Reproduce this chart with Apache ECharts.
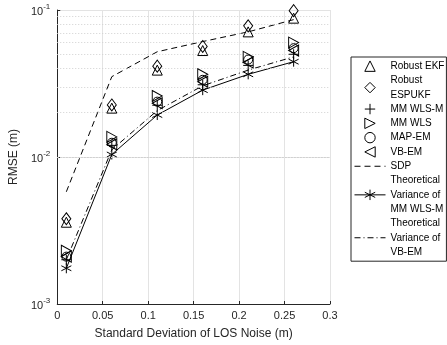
<!DOCTYPE html>
<html>
<head>
<meta charset="utf-8">
<script src="https://cdn.jsdelivr.net/npm/echarts@6/dist/echarts.min.js"></script>
<style>
html,body{margin:0;padding:0;background:#fff;}
#main{width:447px;height:345px;}
</style>
</head>
<body>
<div id="main"></div>
<script>
// ---- data ----
var xValues = [0.01, 0.06, 0.11, 0.16, 0.21, 0.26];
var robustEKF = [0.0036, 0.0215, 0.039, 0.053, 0.071, 0.088];
var robustESPUKF = [0.0038, 0.0226, 0.0415, 0.0565, 0.078, 0.099];
var mmWlsM = [0.0020, 0.0120, 0.0225, 0.031, 0.042, 0.050];
var mmWls = [0.0023, 0.0137, 0.0260, 0.0365, 0.048, 0.060];
var mapEm = [0.0021, 0.0125, 0.0238, 0.0335, 0.046, 0.055];
var vbEm = [0.0021, 0.0122, 0.0232, 0.0325, 0.044, 0.053];
var sdp = [0.0058, 0.0352, 0.052, 0.061, 0.071, 0.086];
var theoMmWlsM = [0.00175, 0.0104, 0.0193, 0.0285, 0.0365, 0.0445];
var theoVbEm = [0.0020, 0.0112, 0.0207, 0.0305, 0.039, 0.048];
var xTicks = [0, 0.05, 0.1, 0.15, 0.2, 0.25, 0.3];
var yMinorGrid = [0.002, 0.003, 0.004, 0.005, 0.006, 0.007, 0.008, 0.009,
                  0.02, 0.03, 0.04, 0.05, 0.06, 0.07, 0.08, 0.09];
var names = ['Robust EKF', 'Robust\nESPUKF', 'MM WLS-M', 'MM WLS', 'MAP-EM', 'VB-EM', 'SDP',
             'Theoretical\nVariance of\nMM WLS-M', 'Theoretical\nVariance of\nVB-EM'];

function pairs(ys) { return xValues.map(function (x, i) { return [x, ys[i]]; }); }

var AX = '#262626';
var FONT = 'Liberation Sans, Arial, sans-serif';
var CLEAR = 'rgba(255,255,255,0)';

// marker-only series (line series with invisible line)
function markers(name, data, symbol, size) {
  return {
    name: name, type: 'line', data: pairs(data), symbol: symbol, symbolSize: size,
    showSymbol: true,
    lineStyle: { color: CLEAR, width: 1, opacity: 0 },
    itemStyle: { color: CLEAR, borderColor: '#000', borderWidth: 1 },
    z: 5, silent: true
  };
}
function line(name, data, type, symbol, size) {
  return {
    name: name, type: 'line', data: pairs(data), symbol: symbol || 'circle', symbolSize: size || 1,
    showSymbol: !!symbol,
    lineStyle: { color: '#000', width: 1, type: type },
    itemStyle: { color: CLEAR, borderColor: '#000', borderWidth: 1 },
    z: 4, silent: true
  };
}

var hiddenIcon = { itemStyle: { color: CLEAR, borderColor: CLEAR, opacity: 0 } };
var legendData = names.map(function (n, i) {
  if (i === 6 || i === 8) return Object.assign({ name: n }, hiddenIcon);
  return { name: n };
});

var chart = echarts.init(document.getElementById('main'), null, { renderer: 'canvas' });
chart.setOption({
  animation: false,
  textStyle: { fontFamily: FONT },
  grid: { left: 52, right: 117, top: 10, bottom: 41, containLabel: false },
  legend: {
    orient: 'vertical', left: 351, top: 57,
    padding: [2, 2, 2, 3], itemGap: 0, itemWidth: 31, itemHeight: 13,
    backgroundColor: '#fff', borderColor: AX, borderWidth: 1, borderRadius: 0,
    itemStyle: { borderWidth: 1 },
    lineStyle: { width: 1 },
    textStyle: { fontSize: 10, lineHeight: 14.3, color: '#000', fontFamily: FONT },
    data: legendData
  },
  xAxis: {
    type: 'value', min: 0, max: 0.3, interval: 0.05,
    name: 'Standard Deviation of LOS Noise (m)', nameLocation: 'middle', nameGap: 24,
    nameTextStyle: { fontSize: 12, color: AX, fontFamily: FONT },
    axisLine: { show: true, lineStyle: { color: AX, width: 1 } },
    axisTick: { show: true, inside: true, length: 3, lineStyle: { color: AX } },
    axisLabel: { fontSize: 11, color: AX, margin: 6, fontFamily: FONT },
    splitLine: { show: true, lineStyle: { color: '#e3e3e3', width: 1 } }
  },
  yAxis: {
    type: 'log', logBase: 10, min: 0.001, max: 0.1,
    name: 'RMSE (m)', nameLocation: 'middle', nameGap: 35,
    nameTextStyle: { fontSize: 12, color: AX, fontFamily: FONT },
    axisLine: { show: true, lineStyle: { color: AX, width: 1 } },
    axisTick: { show: true, inside: true, length: 3, lineStyle: { color: AX } },
    axisLabel: {
      margin: 7, color: AX,
      formatter: function (v) {
        var e = Math.round(Math.log10(v));
        return '{b|10}{s|' + e + '}';
      },
      rich: {
        b: { fontSize: 11, color: AX, fontFamily: FONT, padding: [4, 0, 0, 0] },
        s: { fontSize: 8, color: AX, fontFamily: FONT, padding: [0, 0, 6, 0] }
      }
    },
    splitLine: { show: true, lineStyle: { color: '#e3e3e3', width: 1 } }
  },
  series: [
    markers(names[0], robustEKF, 'triangle', [10, 10]),
    markers(names[1], robustESPUKF, 'diamond', [9, 12]),
    markers(names[2], mmWlsM, 'path://M5,0L5,10M0,5L10,5', [10, 10]),
    markers(names[3], mmWls, 'path://M0,0L10,5L0,10Z', [10, 11]),
    markers(names[4], mapEm, 'circle', 9),
    markers(names[5], vbEm, 'path://M10,0L0,5L10,10Z', [10, 11]),
    line(names[6], sdp, [6, 4]),
    line(names[7], theoMmWlsM, 'solid', 'path://M5,0L5,10M0.67,2.5L9.33,7.5M0.67,7.5L9.33,2.5', 10),
    line(names[8], theoVbEm, [6, 3, 1, 3]),
    {
      name: 'minorGrid', type: 'line', data: [], silent: true,
      markLine: {
        silent: true, symbol: 'none', animation: false,
        label: { show: false },
        lineStyle: { color: '#d0d0d0', width: 1, type: [1, 2] },
        data: yMinorGrid.map(function (v) { return { yAxis: v }; })
      },
      z: 1
    }
  ]
});
</script>
</body>
</html>
